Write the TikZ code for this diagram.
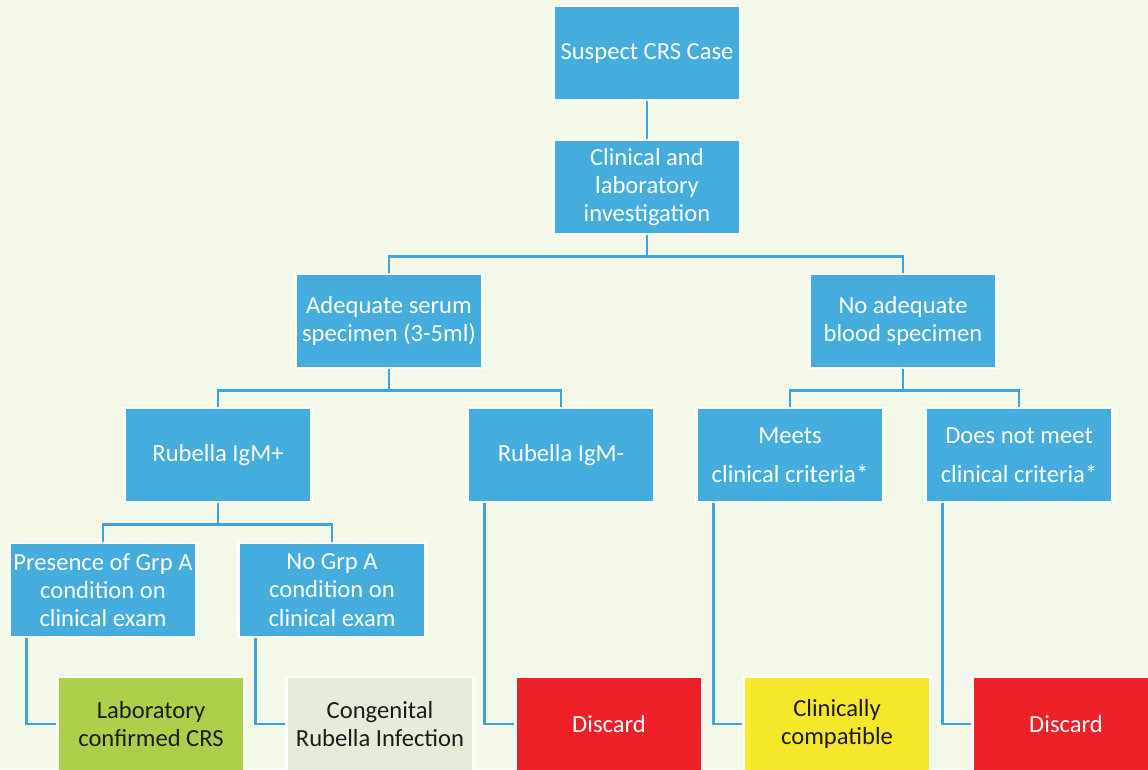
\documentclass[tikz,border=0pt]{standalone}
\usepackage{fontspec}
\setmainfont{Carlito}
\definecolor{bgcol}{HTML}{F3F8E8}
\definecolor{boxblue}{HTML}{45ADDE}
\definecolor{linkblue}{HTML}{3FA4D8}
\definecolor{labgreen}{HTML}{AECF4A}
\definecolor{palegreen}{HTML}{E4ECDA}
\definecolor{discred}{HTML}{EE2129}
\definecolor{compyellow}{HTML}{F5E72A}
\definecolor{darktext}{HTML}{1C1C1C}

\begin{document}
\begin{tikzpicture}[x=0.02cm,y=-0.02cm,
  box/.style={draw=white, line width=1.3pt, fill=boxblue, text=white,
    minimum width=3.74cm, minimum height=1.88cm, inner sep=0pt,
    align=center, font=\fontsize{14}{16}\selectfont},
  leaf/.style={box, text=darktext},
  link/.style={draw=linkblue, line width=1.6pt}]
 \useasboundingbox (0,0) rectangle (1148,769);
 \clip (0,0) rectangle (1148,769);
 \fill [bgcol] (0,0) rectangle (1148,769);

 \node [box] (susp) at (647,53) {Suspect CRS Case};
 \node [box] (clin) at (647,187) {Clinical and\\laboratory\\investigation};

 \node [box] (adeq) at (389,321) {Adequate serum\\specimen (3-5ml)};
 \node [box] (noad) at (903,321) {No adequate\\blood specimen};

 \node [box] (igmp) at (218,455) {Rubella IgM+};
 \node [box] (igmn) at (561,455) {Rubella IgM-};
 \node [box] (meets) at (790,455) {Meets\\[6pt]clinical criteria*};
 \node [box] (notmeet) at (1019,455) {Does not meet\\[6pt]clinical criteria*};

 \node [box] (pres) at (103,590) {Presence of Grp A\\condition on\\clinical exam};
 \node [box] (nogrp) at (332,590) {No Grp A\\condition on\\clinical exam};

 \node [leaf, fill=labgreen] (labc) at (151,724) {Laboratory\\confirmed CRS};
 \node [leaf, fill=palegreen] (cong) at (380,724) {Congenital\\Rubella Infection};
 \node [box, fill=discred] (disc1) at (609,724) {Discard};
 \node [leaf, fill=compyellow] (clinc) at (837,724) {Clinically\\compatible};
 \node [box, fill=discred] (disc2) at (1066,724) {Discard};

 \draw [link] (susp) -- (clin);
 \draw [link] (clin.south) -- ++(0,21) -| (adeq.north);
 \draw [link] (clin.south) -- ++(0,21) -| (noad.north);
 \draw [link] (adeq.south) -- ++(0,21) -| (igmp.north);
 \draw [link] (adeq.south) -- ++(0,21) -| (igmn.north);
 \draw [link] (noad.south) -- ++(0,21) -| (meets.north);
 \draw [link] (noad.south) -- ++(0,21) -| (notmeet.north);
 \draw [link] (igmp.south) -- ++(0,21) -| (pres.north);
 \draw [link] (igmp.south) -- ++(0,21) -| (nogrp.north);

 \draw [link] ([xshift=0.37cm]pres.south west) |- (labc.west);
 \draw [link] ([xshift=0.37cm]nogrp.south west) |- (cong.west);
 \draw [link] ([xshift=0.37cm]igmn.south west) |- (disc1.west);
 \draw [link] ([xshift=0.37cm]meets.south west) |- (clinc.west);
 \draw [link] ([xshift=0.37cm]notmeet.south west) |- (disc2.west);
\end{tikzpicture}
\end{document}
